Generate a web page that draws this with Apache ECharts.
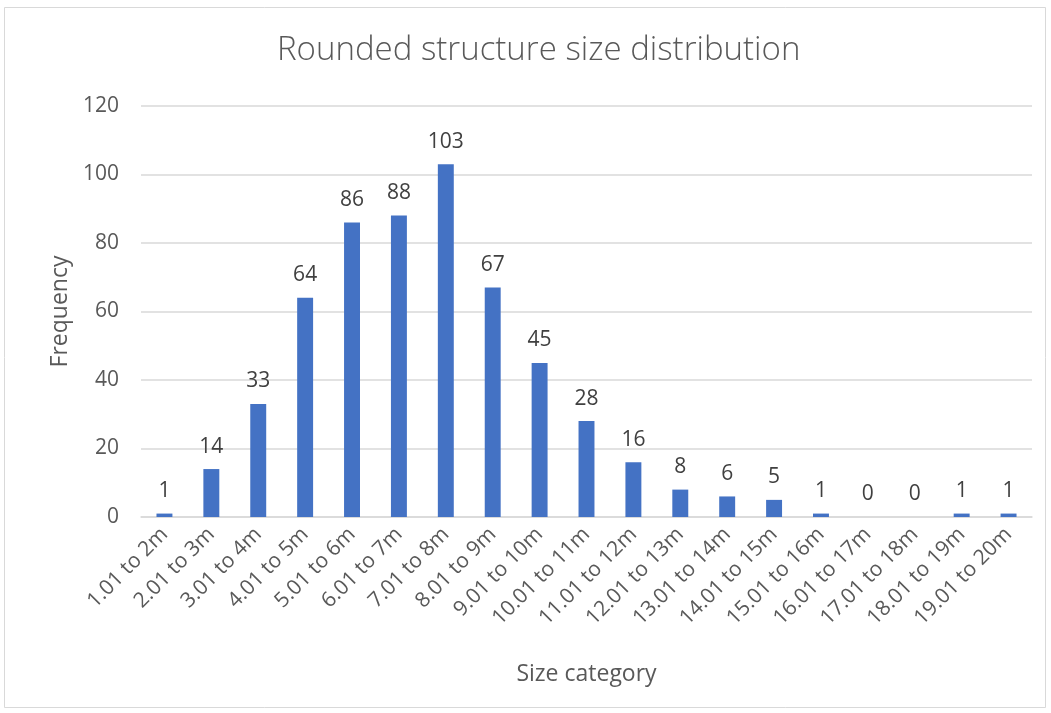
<!DOCTYPE html>
<html>
<head>
<meta charset="utf-8">
<script src="https://cdn.jsdelivr.net/npm/echarts@6/dist/echarts.min.js"></script>
<style>
  html, body { margin: 0; padding: 0; background: #fff; }
  #chart { width: 1051px; height: 713px; }
</style>
</head>
<body>
<div id="chart"></div>
<script>
// Size categories (metres) and how many structures fall in each
const categories = [
  '1.01 to 2m', '2.01 to 3m', '3.01 to 4m', '4.01 to 5m', '5.01 to 6m',
  '6.01 to 7m', '7.01 to 8m', '8.01 to 9m', '9.01 to 10m', '10.01 to 11m',
  '11.01 to 12m', '12.01 to 13m', '13.01 to 14m', '14.01 to 15m', '15.01 to 16m',
  '16.01 to 17m', '17.01 to 18m', '18.01 to 19m', '19.01 to 20m'
];
const frequency = [1, 14, 33, 64, 86, 88, 103, 67, 45, 28, 16, 8, 6, 5, 1, 0, 0, 1, 1];

const yMin = 0, yMax = 120, yStep = 20;

const FONT = '"Open Sans", "Liberation Sans", sans-serif';
const chart = echarts.init(document.getElementById('chart'), null, { renderer: 'canvas' });

chart.setOption({
  animation: false,
  backgroundColor: '#ffffff',
  graphic: [{
    type: 'rect',
    shape: { x: 4.5, y: 7.5, width: 1041, height: 700 },
    style: { fill: 'none', stroke: '#d9d9d9', lineWidth: 1 },
    silent: true
  }],
  title: {
    text: 'Rounded structure size distribution',
    left: 272,
    top: 29,
    textStyle: { fontFamily: FONT, fontSize: 33, fontWeight: 300, color: '#595959' }
  },
  grid: { left: 141, right: 19, top: 106, bottom: 196, containLabel: false },
  xAxis: {
    type: 'category',
    data: categories,
    name: 'Size category',
    nameLocation: 'middle',
    nameGap: 146,
    nameTextStyle: { fontFamily: FONT, fontSize: 23, color: '#595959' },
    axisLine: { lineStyle: { color: '#d9d9d9', width: 1.5 } },
    axisTick: { show: false },
    axisLabel: {
      interval: 0,
      rotate: 45,
      margin: 14,
      fontFamily: FONT,
      fontSize: 21,
      color: '#595959'
    }
  },
  yAxis: {
    type: 'value',
    min: yMin,
    max: yMax,
    interval: yStep,
    name: 'Frequency',
    nameLocation: 'middle',
    nameGap: 68,
    nameTextStyle: { fontFamily: FONT, fontSize: 23, color: '#595959' },
    axisLine: { show: false },
    axisTick: { show: false },
    axisLabel: { margin: 22, fontFamily: FONT, fontSize: 21, color: '#595959' },
    splitLine: { lineStyle: { color: '#d9d9d9', width: 1.5 } }
  },
  series: [{
    type: 'bar',
    data: frequency,
    barWidth: '34%',
    itemStyle: { color: '#4472C4' },
    label: {
      show: true,
      position: 'top',
      distance: 12,
      fontFamily: FONT,
      fontSize: 21,
      color: '#404040'
    }
  }]
});
</script>
</body>
</html>
